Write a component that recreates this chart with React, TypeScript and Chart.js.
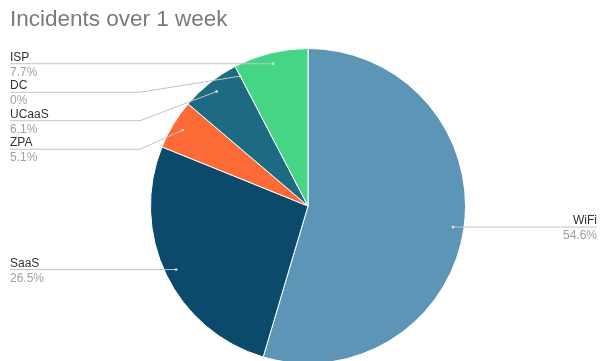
import React, { useEffect, useRef } from "react";
import { Chart, registerables } from "chart.js";

Chart.register(...registerables);

const TITLE = "Incidents over 1 week";
const categories = ["WiFi", "SaaS", "ZPA", "UCaaS", "DC", "ISP"];
const incidents = [107, 52, 10, 12, 0, 15];
const colors = ["#5d95b6", "#0c4a6b", "#fc6a35", "#1d6a82", "#3a7d95", "#45d585"];

const fmtPct = (v: number, total: number) => {
  if (v === 0) return "0%";
  return ((v / total) * 100).toFixed(1) + "%";
};

const leaderPlugin = {
  id: "leaders",
  afterDatasetsDraw(chart: any) {
    const ctx: CanvasRenderingContext2D = chart.ctx;
    const meta = chart.getDatasetMeta(0);
    const data: number[] = chart.data.datasets[0].data;
    const labels: string[] = chart.data.labels;
    const total = data.reduce((a, b) => a + b, 0);
    const W = chart.width;
    const items = meta.data.map((arc: any, i: number) => {
      const p = arc.getProps(["x", "y", "startAngle", "endAngle", "outerRadius"], true);
      const mid = (p.startAngle + p.endAngle) / 2;
      const r = p.outerRadius * 0.93;
      return {
        i,
        dx: p.x + Math.cos(mid) * r,
        dy: p.y + Math.sin(mid) * r,
        right: Math.cos(mid) > 0,
        ly: 0,
      };
    });
    const spacing = 28.5;
    const assign = (list: any[]) => {
      list.sort((a, b) => a.dy - b.dy);
      let prev = -Infinity;
      for (const it of list) {
        it.ly = Math.max(it.dy, prev + spacing);
        prev = it.ly;
      }
    };
    const left = items.filter((it: any) => !it.right);
    const right = items.filter((it: any) => it.right);
    assign(left);
    assign(right);

    ctx.save();
    ctx.lineWidth = 1;
    for (const it of items) {
      const x0 = it.right ? W - 7 : 10;
      ctx.strokeStyle = "#c4c4c4";
      ctx.beginPath();
      ctx.moveTo(x0, it.ly);
      if (Math.abs(it.ly - it.dy) < 2.5) {
        ctx.lineTo(it.dx, it.ly);
      } else {
        const bend = it.right ? W - 140 : 140;
        ctx.lineTo(bend, it.ly);
        ctx.lineTo(it.dx, it.dy);
      }
      ctx.stroke();
      ctx.fillStyle = "rgba(230,230,230,0.9)";
      ctx.beginPath();
      ctx.arc(it.dx, Math.abs(it.ly - it.dy) < 2.5 ? it.ly : it.dy, 1.4, 0, Math.PI * 2);
      ctx.fill();

      ctx.textAlign = it.right ? "right" : "left";
      ctx.textBaseline = "alphabetic";
      ctx.font = "12px 'Liberation Sans', Arial, sans-serif";
      ctx.fillStyle = "#333333";
      ctx.fillText(labels[it.i], x0, it.ly - 3);
      ctx.fillStyle = "#a0a0a0";
      ctx.fillText(fmtPct(data[it.i], total), x0, it.ly + 12);
    }
    ctx.font = "22.5px 'Liberation Sans', Arial, sans-serif";
    ctx.textAlign = "left";
    ctx.fillStyle = "#7a7a7a";
    ctx.fillText(TITLE, 10, 26);
    ctx.restore();
  },
};

export default function App() {
  const ref = useRef<HTMLCanvasElement | null>(null);
  useEffect(() => {
    if (!ref.current) return;
    const chart = new Chart(ref.current, {
      type: "pie",
      data: {
        labels: categories,
        datasets: [
          {
            data: incidents,
            backgroundColor: colors,
            borderColor: "#ffffff",
            borderWidth: 1,
          },
        ],
      },
      options: {
        animation: false,
        responsive: true,
        maintainAspectRatio: false,
        layout: { padding: { top: 48, bottom: 6, left: 150, right: 138 } },
        plugins: {
          legend: { display: false },
          tooltip: { enabled: false },
          title: { display: false },
        },
      },
      plugins: [leaderPlugin],
    });
    return () => chart.destroy();
  }, []);
  return (
    <div
      style={{
        position: "fixed",
        left: 0,
        top: 0,
        width: 604,
        height: 361,
        overflow: "hidden",
        background: "#ffffff",
      }}
    >
      <div style={{ position: "relative", width: 604, height: 370 }}>
        <canvas ref={ref} />
      </div>
    </div>
  );
}
